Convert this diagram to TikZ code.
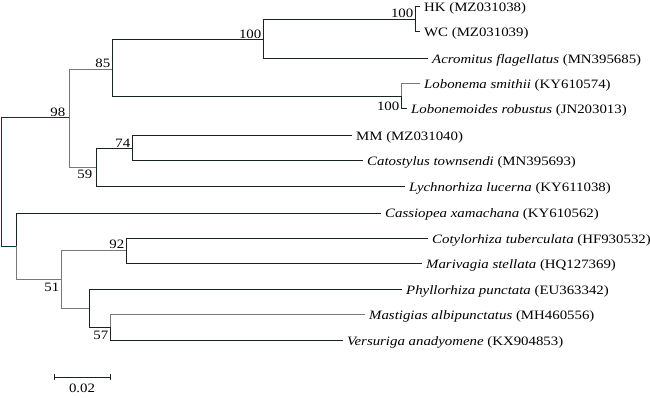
\documentclass[tikz,border=0pt]{standalone}
\usepackage{fontspec}
\setmainfont{Liberation Serif}[FakeStretch=1.16]
\usetikzlibrary{positioning}
\definecolor{treedark}{RGB}{25,35,35}
\definecolor{treeteal}{RGB}{10,55,55}
\definecolor{treegray}{RGB}{120,120,120}
\tikzset{
    every node/.style={font=\fontsize{12.8}{14}\selectfont},  % Times-like labels
    branch/.style={draw=treedark, line width=1pt},            % ordinary branch
    greybranch/.style={draw=treegray, line width=1pt},        % paler branch
    leaf/.style={anchor=west, inner xsep=4pt, inner ysep=0pt,
                 text height=10pt, text depth=0pt},           % taxon names
    boot/.style={inner sep=1.5pt}                             % bootstrap values
}

\begin{document}
\begin{tikzpicture}[x=1pt, y=-1pt]
    \useasboundingbox (0,0) rectangle (650,398);

    % internal nodes
    \coordinate (r)    at (1,181.5);
    \coordinate (n98)  at (69,118);
    \coordinate (n85)  at (112,69.5);
    \coordinate (n100) at (263,40);
    \coordinate (nhw)  at (415,19.5);
    \coordinate (nlob) at (401,96.5);
    \coordinate (n59)  at (96,168);
    \coordinate (n74)  at (132,149);
    \coordinate (nrh)  at (16,246);
    \coordinate (n51)  at (61,279.5);
    \coordinate (n92)  at (126,250.5);
    \coordinate (nph)  at (89,308);
    \coordinate (n57)  at (110,327);

    % taxa
    \node [leaf] (hk)   at (420,7)   {HK (MZ031038)};
    \node [leaf] (wc)   at (420,32)  {WC (MZ031039)};
    \node [leaf] (acro) at (428,59)  {\textit{Acromitus flagellatus} (MN395685)};
    \node [leaf] (lsmi) at (420,84)  {\textit{Lobonema smithii} (KY610574)};
    \node [leaf] (lrob) at (407,109) {\textit{Lobonemoides robustus} (JN203013)};
    \node [leaf] (mm)   at (352,136) {MM (MZ031040)};
    \node [leaf] (ctow) at (363,161) {\textit{Catostylus townsendi} (MN395693)};
    \node [leaf] (lluc) at (405,187) {\textit{Lychnorhiza lucerna} (KY611038)};
    \node [leaf] (cxam) at (381,213) {\textit{Cassiopea xamachana} (KY610562)};
    \node [leaf] (ctub) at (428,238) {\textit{Cotylorhiza tuberculata} (HF930532)};
    \node [leaf] (mste) at (422,263) {\textit{Marivagia stellata} (HQ127369)};
    \node [leaf] (ppun) at (402,289) {\textit{Phyllorhiza punctata} (EU363342)};
    \node [leaf] (malb) at (365,314) {\textit{Mastigias albipunctatus} (MH460556)};
    \node [leaf] (vana) at (343,340) {\textit{Versuriga anadyomene} (KX904853)};

    % branches
    \draw [branch, draw=treeteal] (r) |- (n98)  (r) |- (nrh);
    \draw [greybranch] (n98) |- (n85)  (n98) |- (n59);
    \draw [branch] (n85) |- (n100)  (n85) |- (nlob);
    \draw [branch] (n100) |- (nhw)  (n100) |- (acro.west);
    \draw [branch] (nhw) |- (hk.west)  (nhw) |- (wc.west);
    \draw [greybranch] (nlob) |- (lsmi.west);
    \draw [branch] (nlob) |- (lrob.west);
    \draw [branch] (n59) |- (n74)  (n59) |- (lluc.west);
    \draw [branch] (n74) |- (mm.west)  (n74) |- (ctow.west);
    \draw [branch] (nrh) |- (cxam.west);
    \draw [greybranch] (nrh) |- (n51);
    \draw [greybranch] (n51) |- (n92)  (n51) |- (nph);
    \draw [branch] (n92) |- (ctub.west)  (n92) |- (mste.west);
    \draw [branch] (nph) |- (ppun.west)  (nph) |- (n57);
    \draw [greybranch] (n57) |- (malb.west);
    \draw [branch] (n57) |- (vana.west);

    % bootstrap values
    \node [boot, anchor=south east, xshift=-2pt] (b98)  at (n98)  {98};
    \node [boot, anchor=south east] (b85)  at (n85)  {85};
    \node [boot, anchor=south east] (b100) at (n100) {100};
    \node [boot, anchor=south east] (bhw)  at (nhw)  {100};
    \node [boot, anchor=north east, yshift=-4pt] (blob) at (nlob) {100};
    \node [boot, anchor=south east] (b74)  at (n74)  {74};
    \node [boot, anchor=north east, xshift=-2pt] (b59)  at (n59)  {59};
    \node [boot, anchor=south east] (b92)  at (n92)  {92};
    \node [boot, anchor=north east, yshift=-2pt] (b51)  at (n51)  {51};
    \node [boot, anchor=north east, yshift=-2pt] (b57)  at (n57)  {57};

    % scale bar
    \coordinate (sbl) at (54,377);
    \coordinate (sbr) at (110,377);
    \coordinate (sbm) at (82,377);
    \draw [branch] (sbl) -- (sbr);
    \draw [branch] ([yshift=3pt]sbl) -- ([yshift=-3pt]sbl);
    \draw [branch] ([yshift=3pt]sbr) -- ([yshift=-3pt]sbr);
    \node [below=3pt of sbm] (sblab) {0.02};
\end{tikzpicture}
\end{document}
